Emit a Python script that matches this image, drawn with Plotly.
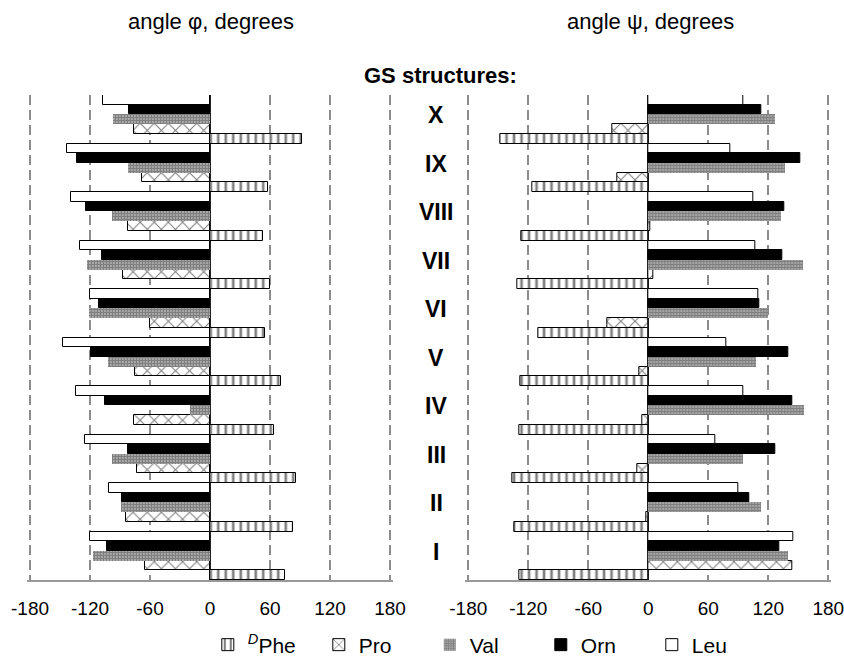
import plotly.graph_objects as go

structures = ["I", "II", "III", "IV", "V", "VI", "VII", "VIII", "IX", "X"]
series_names = ["<sup><i>D</i></sup>Phe", "Pro", "Val", "Orn", "Leu"]

# angle phi (degrees), per structure I..X
phi_dphe = [75, 83, 86, 64, 71, 55, 60, 53, 58, 92]
phi_pro = [-65, -84, -73, -76, -75, -60, -87, -82, -68, -76]
phi_val = [-117, -89, -98, -20, -102, -121, -123, -98, -82, -97]
phi_orn = [-103, -88, -82, -105, -119, -111, -108, -124, -133, -81]
phi_leu = [-120, -101, -125, -134, -147, -120, -130, -139, -143, -107]

# angle psi (degrees), per structure I..X
psi_dphe = [-129, -134, -136, -129, -128, -110, -131, -127, -116, -148]
psi_pro = [144, -2, -11, -6, -9, -41, 5, 2, -31, -36]
psi_val = [140, 113, 95, 156, 108, 120, 155, 133, 137, 127]
psi_orn = [131, 101, 127, 144, 140, 111, 134, 136, 152, 113]
psi_leu = [145, 90, 67, 95, 78, 110, 107, 105, 82, 95]

tick_vals = [-180, -120, -60, 0, 60, 120, 180]

phi_data = [phi_dphe, phi_pro, phi_val, phi_orn, phi_leu]
psi_data = [psi_dphe, psi_pro, psi_val, psi_orn, psi_leu]

styles = [
    dict(color="white", line=dict(color="black", width=1),
         pattern=dict(shape="|", fgcolor="black", bgcolor="white", size=7.5, solidity=0.35)),
    dict(color="white", line=dict(color="black", width=1),
         pattern=dict(shape="x", fgcolor="black", bgcolor="white", size=10, solidity=0.2)),
    dict(color="white", line=dict(color="#666", width=0),
         pattern=dict(shape=".", fgcolor="black", bgcolor="white", size=3, solidity=0.8)),
    dict(color="black", line=dict(color="black", width=1)),
    dict(color="white", line=dict(color="black", width=1)),
]

fig = go.Figure()
for i, name in enumerate(series_names):
    fig.add_trace(go.Bar(
        y=structures, x=phi_data[i], orientation="h", name=name,
        marker=styles[i], xaxis="x", yaxis="y", legendgroup=name,
    ))
for i, name in enumerate(series_names):
    fig.add_trace(go.Bar(
        y=structures, x=psi_data[i], orientation="h", name=name,
        marker=styles[i], xaxis="x2", yaxis="y2", legendgroup=name, showlegend=False,
    ))

W, H = 844, 669
font = "Arial, Liberation Sans, sans-serif"

xcommon = dict(
    range=[-183, 183], tickvals=tick_vals, ticktext=[str(v) for v in tick_vals],
    showgrid=True, gridcolor="#8c8c8c", griddash="10px,5px", gridwidth=1.5,
    zeroline=True, zerolinecolor="#222222", zerolinewidth=1.5,
    showline=True, linecolor="#999999", linewidth=1.5,
    ticks="", tickfont=dict(size=19, color="black", family=font),
    ticklabelstandoff=10, ticklabeloverflow="allow",
    fixedrange=True, automargin=False,
)
ydom = [1 - 580 / H, 1 - 95 / H]
ycommon = dict(
    type="category", categoryorder="array", categoryarray=structures,
    range=[-0.5, 9.5], showticklabels=False, showgrid=False, zeroline=False,
    showline=False, domain=ydom, fixedrange=True, automargin=False,
)

fig.update_layout(
    width=W, height=H,
    margin=dict(l=0, r=0, t=0, b=0, pad=0, autoexpand=False),
    paper_bgcolor="white", plot_bgcolor="white",
    barmode="group", bargap=0, bargroupgap=0,
    font=dict(family=font, color="black"),
    xaxis=dict(domain=[27 / W, 393 / W], anchor="y", **xcommon),
    xaxis2=dict(domain=[465.3 / W, 831.3 / W], anchor="y2", **xcommon),
    yaxis=dict(anchor="x", **ycommon),
    yaxis2=dict(anchor="x2", **ycommon),
    legend=dict(
        orientation="h", x=0.575, xanchor="center", y=1 - 645 / H, yanchor="middle",
        font=dict(size=21, family=font, color="black"),
        entrywidth=66, traceorder="normal",
    ),
    showlegend=True,
)

annotations = [
    dict(text="angle φ, degrees", x=211 / W, y=1 - 22 / H, xref="paper", yref="paper",
         xanchor="center", yanchor="middle", showarrow=False, font=dict(size=22, family=font)),
    dict(text="angle ψ, degrees", x=650 / W, y=1 - 22 / H, xref="paper", yref="paper",
         xanchor="center", yanchor="middle", showarrow=False, font=dict(size=22, family=font)),
    dict(text="<b>GS structures:</b>", x=440 / W, y=1 - 75 / H, xref="paper", yref="paper",
         xanchor="center", yanchor="middle", showarrow=False, font=dict(size=22, family=font)),
]
for s in structures:
    annotations.append(dict(text="<b>%s</b>" % s, x=436 / W, y=s, xref="paper", yref="y",
                            xanchor="center", yanchor="middle", yshift=4, showarrow=False,
                            font=dict(size=23, family=font)))
fig.update_layout(annotations=annotations)

fig.write_html("out.html")
